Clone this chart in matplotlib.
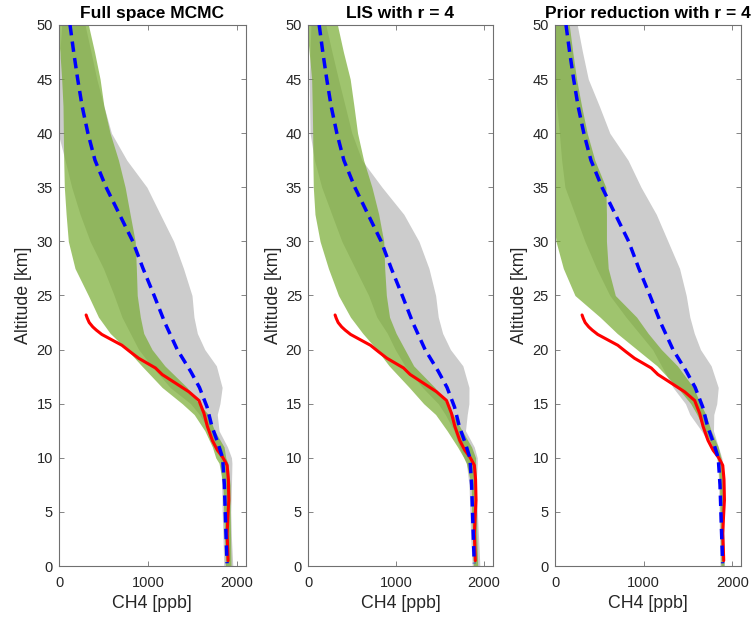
import matplotlib
matplotlib.use("Agg")
import matplotlib.pyplot as plt
import numpy as np

plt.rcParams['font.family'] = ['Liberation Sans', 'DejaVu Sans']

# ---------------- data ----------------
alt = [0, 2.5, 5, 7.5, 9.5, 10, 11, 12.5, 14, 15, 16.5, 18.5, 20, 21.5, 23, 25,
       27.5, 30, 32.5, 35, 37.5, 40, 42.5, 45, 47.5, 50]

# Panel 1: Full space MCMC
p1_gray_lo = [1853, 1845, 1835, 1830, 1820, 1810, 1760, 1690, 1580, 1480, 1250, 1040, 896, 802, 708, 620,
              500, 350, 237, 143, 68, -10, -10, -10, 10, 30]
p1_gray_hi = [1955, 1940, 1932, 1940, 1945, 1940, 1895, 1800, 1780, 1810, 1835, 1770, 1640, 1556, 1518, 1496,
              1400, 1290, 1139, 989, 763, 590, 505, 425, 360, 293]
p1_green_lo = [1872, 1862, 1852, 1845, 1800, 1763, 1725, 1640, 1520, 1386, 1160, 930, 765, 576, 444, 330,
               180, 105, 80, 60, 53, 49, 45, 30, 10, -20]
p1_green_hi = [1935, 1930, 1925, 1925, 1900, 1876, 1857, 1750, 1680, 1574, 1440, 1190, 1047, 953, 915, 880,
               870, 857, 800, 744, 669, 575, 505, 462, 400, 331]

# Panel 2: LIS with r = 4
p2_gray_lo = [1867, 1850, 1840, 1830, 1800, 1771, 1720, 1660, 1560, 1480, 1300, 1100, 990, 900, 780, 687,
              534, 382, 267, 153, 70, 20, 15, 10, 20, 30]
p2_gray_hi = [1954, 1940, 1925, 1910, 1925, 1924, 1890, 1790, 1810, 1829, 1830, 1760, 1619, 1530, 1480, 1450,
              1374, 1260, 1088, 840, 611, 496, 420, 343, 270, 200]
p2_green_lo = [1880, 1870, 1860, 1855, 1800, 1771, 1700, 1581, 1450, 1314, 1150, 920, 780, 620, 480, 344,
               229, 134, 76, 57, 52, 50, 45, 38, 10, -20]
p2_green_hi = [1930, 1920, 1915, 1915, 1905, 1905, 1860, 1752, 1650, 1581, 1440, 1200, 1100, 1000, 925, 889,
               870, 859, 802, 725, 630, 561, 520, 477, 400, 332]

# Panel 3: Prior reduction with r = 4
p3_gray_lo = [1860, 1855, 1850, 1845, 1835, 1820, 1760, 1650, 1520, 1470, 1330, 1200, 1100, 950, 800, 618,
              468, 337, 225, 112, 75, 49, 19, 0, 0, 0]
p3_gray_hi = [1910, 1905, 1900, 1895, 1890, 1880, 1842, 1786, 1790, 1823, 1840, 1760, 1640, 1570, 1520, 1479,
              1404, 1273, 1142, 970, 824, 618, 500, 375, 310, 251]
p3_green_lo = [1870, 1865, 1860, 1855, 1840, 1830, 1780, 1690, 1600, 1530, 1380, 1150, 925, 700, 508, 225,
               94, 11, -20, -20, -30, -40, -40, -30, -20, -20]
p3_green_hi = [1905, 1900, 1895, 1890, 1880, 1870, 1840, 1760, 1700, 1640, 1560, 1380, 1200, 1050, 920, 680,
               600, 580, 580, 573, 449, 363, 300, 243, 200, 161]

# True (measured) profile - red
red_alt = [23.2, 22.9, 22.5, 22.1, 21.8, 21.4, 20.9, 20.4, 19.8, 19.2, 18.3, 17.7, 16.9, 16.1,
           15.3, 14.1, 12.9, 11.6, 10.7, 10.1, 9.6, 9.3, 8.0, 6.1, 4.6, 3.0, 1.5, 0.5]
red_ch4 = [305, 318, 340, 380, 420, 482, 595, 708, 800, 896, 1085, 1160, 1311, 1461,
           1574, 1631, 1669, 1725, 1782, 1838, 1872, 1891, 1905, 1910, 1900, 1891, 1898, 1902]

# Mean profile - blue dashed
blue_alt = [50, 47.5, 45, 42.5, 40, 37.5, 35, 32.5, 30, 27.5, 25, 22.5, 20, 18, 16.5, 14.7,
            12.9, 11.3, 10, 7.5, 5, 2.5, 0.25]
blue_ch4 = [124, 165, 210, 260, 325, 405, 530, 680, 830, 945, 1070, 1190, 1330, 1480, 1580, 1665,
            1720, 1790, 1840, 1860, 1870, 1880, 1890]

titles = ["Full space MCMC", "LIS with r = 4", "Prior reduction with r = 4"]
bands = [
    (p1_gray_lo, p1_gray_hi, p1_green_lo, p1_green_hi),
    (p2_gray_lo, p2_gray_hi, p2_green_lo, p2_green_hi),
    (p3_gray_lo, p3_gray_hi, p3_green_lo, p3_green_hi),
]

# ---------------- plot ----------------
W, H = 753, 617
fig = plt.figure(figsize=(W / 100, H / 100), dpi=100)
lefts = [59, 308.3, 555]
widths = [186.7, 184.4, 186.3]
bottom_px, top_px = 566, 25

txtcol = '#262626'
framecol = '#707070'
green = (0.466, 0.674, 0.188)

for i in range(3):
    ax = fig.add_axes([lefts[i] / W, (H - bottom_px) / H, widths[i] / W, (bottom_px - top_px) / H])
    glo, ghi, nlo, nhi = bands[i]
    ax.fill_betweenx(alt, glo, ghi, color='#cccccc', linewidth=0, zorder=1)
    ax.fill_betweenx(alt, nlo, nhi, color=green, alpha=0.7, linewidth=0, zorder=2)
    ax.plot(red_ch4, red_alt, color='red', linewidth=2.2, zorder=3, solid_capstyle='round')
    ax.plot(blue_ch4, blue_alt, color='blue', linewidth=2.5, dashes=(3, 1.8), zorder=4)
    ax.set_xlim(0, 2100)
    ax.set_ylim(0, 50)
    ax.set_xticks([0, 1000, 2000])
    ax.set_yticks(np.arange(0, 51, 5))
    ax.tick_params(direction='in', length=3.9, width=0.6, color=framecol, labelcolor=txtcol,
                   labelsize=10.5, top=True, right=True)
    ax.tick_params(axis='x', pad=7.5)
    ax.tick_params(axis='y', pad=4.5)
    for s in ax.spines.values():
        s.set_color(framecol)
        s.set_linewidth(0.8)
    ax.set_xlabel("CH4 [ppb]", fontsize=12.8, color=txtcol, labelpad=3.5)
    ax.set_ylabel("Altitude [km]", fontsize=12.8, color=txtcol, labelpad=3)
    ax.set_title(titles[i], fontsize=12.5, fontweight='bold', color='black', pad=5)

fig.savefig("out.png", dpi=100)
